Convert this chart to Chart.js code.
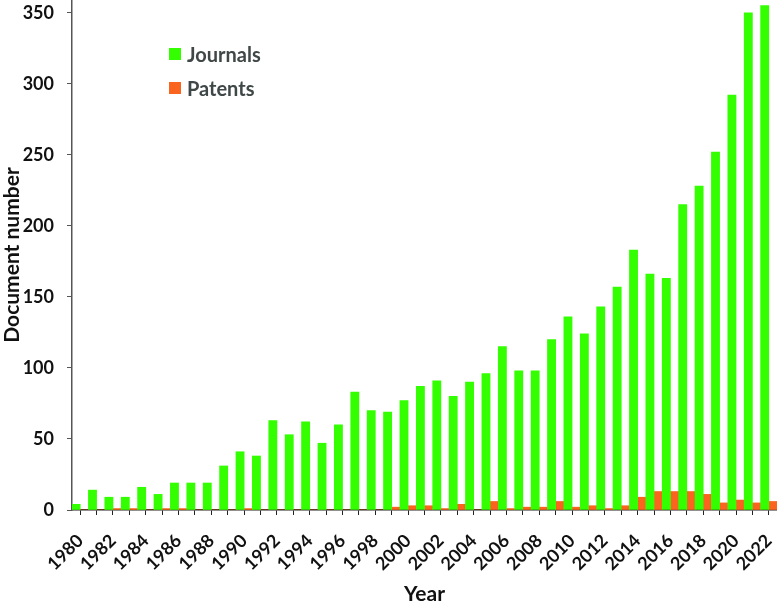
<!DOCTYPE html>
<html>
<head>
<meta charset="utf-8">
<script src="https://cdn.jsdelivr.net/npm/chart.js@4/dist/chart.umd.min.js"></script>
<style>
  html, body { margin: 0; padding: 0; background: #fff; }
  #wrap { position: relative; width: 777px; height: 607px; }
  #legend { position: absolute; left: 169px; top: 43px; font-family: Lato, "Open Sans", sans-serif; font-weight: bold; font-size: 20px; color: #3f4747; }
  .item { display: flex; align-items: center; height: 22px; margin-bottom: 12px; }
  .box { width: 12px; height: 12px; margin-right: 6px; }
</style>
</head>
<body>
<div id="wrap">
  <canvas id="c" width="777" height="607"></canvas>
  <div id="legend"></div>
</div>
<script>
const years = ["1980","1981","1982","1983","1984","1985","1986","1987","1988","1989",
  "1990","1991","1992","1993","1994","1995","1996","1997","1998","1999",
  "2000","2001","2002","2003","2004","2005","2006","2007","2008","2009",
  "2010","2011","2012","2013","2014","2015","2016","2017","2018","2019",
  "2020","2021","2022"];
const journals = [4,14,9,9,16,11,19,19,19,31,
  41,38,63,53,62,47,60,83,70,69,
  77,87,91,80,90,96,115,98,98,120,
  136,124,143,157,183,166,163,215,228,252,
  292,350,355];
const patents = [0,0,1,1,0,1,1,0,0,0,
  1,0,0,0,0,0,0,0,0,2,
  3,3,1,4,0,6,1,2,2,6,
  2,3,1,3,9,13,13,13,11,5,
  7,5,6];
const seriesNames = ["Journals", "Patents"];
const seriesColors = ["#33ff00", "#fa641e"];
const yTicks = [0, 50, 100, 150, 200, 250, 300, 350];

const FONT = 'Lato, "Open Sans", sans-serif';

const chart = new Chart(document.getElementById('c'), {
  type: 'bar',
  data: {
    labels: years,
    datasets: [
      { label: seriesNames[0], data: journals, backgroundColor: seriesColors[0], categoryPercentage: 1, barPercentage: 1 },
      { label: seriesNames[1], data: patents, backgroundColor: seriesColors[1], categoryPercentage: 1, barPercentage: 1 }
    ]
  },
  options: {
    responsive: false,
    animation: false,
    devicePixelRatio: 1,
    layout: { padding: 0 },
    plugins: { legend: { display: false }, tooltip: { enabled: false } },
    scales: {
      x: {
        offset: true,
        grid: { offset: false, drawOnChartArea: false, drawTicks: true, tickLength: 5, color: '#222' },
        border: { display: true, color: '#222', width: 1.5 },
        ticks: {
          autoSkip: false, maxRotation: 45, minRotation: 45, padding: 15,
          color: '#111', font: { family: FONT, weight: 'bold', size: 18 },
          callback: function (v, i) { return i % 2 === 0 ? this.getLabelForValue(v) : ''; }
        },
        title: { display: true, text: 'Year', color: '#111', font: { family: FONT, weight: 'bold', size: 21 }, padding: 0 },
        afterFit: function (s) { s.height = 97; s.paddingLeft = 0; s.paddingRight = 0; }
      },
      y: {
        min: 0, max: 359,
        grid: { drawOnChartArea: false, drawTicks: true, tickLength: 5, color: '#555' },
        border: { display: true, color: '#555', width: 1.5 },
        ticks: {
          stepSize: 50, includeBounds: false, padding: 13,
          color: '#111', font: { family: FONT, weight: 'bold', size: 18 },
          callback: function (v) { return yTicks.includes(v) ? String(v) : ''; }
        },
        title: { display: true, text: 'Document number', color: '#111', font: { family: FONT, weight: 'bold', size: 21 }, padding: 0 },
        afterFit: function (s) { s.width = 72; s.paddingTop = 0; s.paddingBottom = 0; }
      }
    }
  }
});

const legend = document.getElementById('legend');
seriesNames.forEach((n, i) => {
  const d = document.createElement('div');
  d.className = 'item';
  const b = document.createElement('span');
  b.className = 'box';
  b.style.background = seriesColors[i];
  const t = document.createElement('span');
  t.textContent = n;
  d.appendChild(b); d.appendChild(t);
  legend.appendChild(d);
});
</script>
</body>
</html>
